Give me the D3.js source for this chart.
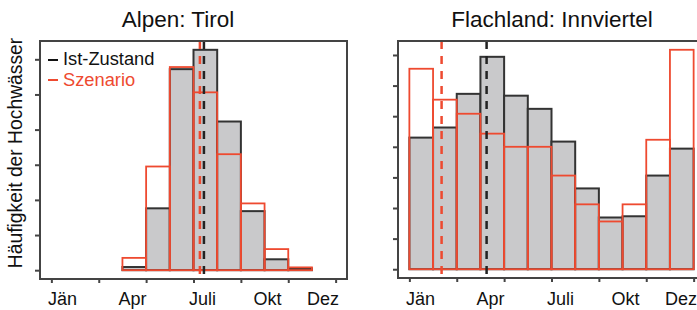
<!DOCTYPE html>
<html><head><meta charset="utf-8">
<script src="https://cdn.jsdelivr.net/npm/d3@7"></script>
<style>
html,body{margin:0;padding:0;background:#fff;}
svg{display:block;font-family:"Liberation Sans",Arial,sans-serif;}
</style></head>
<body><svg id="chart" width="697" height="310"></svg>
<script>
// Months (bins), 0..12
const months = ["Jän","Feb","Mär","Apr","Mai","Jun","Jul","Aug","Sep","Okt","Nov","Dez"];
const tickLabels = ["Jän","Apr","Juli","Okt","Dez"];
const tickLabelPos = [0.47, 3.42, 6.38, 9.12, 11.47];
const xTicks = [0,2,4,6,8,10,12];

// Alpen: Tirol
const tirolIst = [0,0,0,0.09,1.76,5.72,6.27,4.23,1.68,0.31,0.05,0];
const tirolSzen = [0,0,0,0.35,2.95,5.78,5.06,3.30,1.90,0.60,0.08,0];
const tirolMeanIst = 6.44, tirolMeanSzen = 6.27;
const tirolYTicks = [0,1,2,3,4,5,6];

// Flachland: Innviertel
const innIst = [4.30,4.63,5.73,6.94,5.67,5.24,4.17,2.64,1.69,1.73,3.06,3.94];
const innSzen = [6.55,5.54,5.08,4.43,4.00,4.00,3.06,2.12,1.56,2.12,4.23,7.17];
const innMeanIst = 3.26, innMeanSzen = 1.36;
const innYTicks = [0,1,2,3,4,5,6,7];

const RED = "#ee4a30", BLACK = "#333", GRAY = "#c9c9cb", AXIS = "#444";

const svg = d3.select("#chart");

function panel(opts){
  const {left,right,top,bottom,ist,szen,mIst,mSzen,yTicks,title,titleX} = opts;
  const ymax = d3.max(ist.concat(szen));
  const x = d3.scaleLinear().domain([-0.04*12, 12*1.04]).range([left,right]);
  const y = d3.scaleLinear().domain([-0.04*ymax, 1.04*ymax]).range([bottom,top]);
  const g = svg.append("g");

  // Ist bars (gray, black border)
  g.selectAll("rect.ist").data(ist).join("rect")
    .attr("x",(d,i)=>x(i)).attr("width",(d,i)=>x(i+1)-x(i))
    .attr("y",d=>y(d)).attr("height",d=>y(0)-y(d))
    .attr("fill",GRAY).attr("stroke",BLACK).attr("stroke-width",2);
  // Szenario bars (red border, no fill)
  g.selectAll("rect.sz").data(szen).join("rect")
    .attr("x",(d,i)=>x(i)).attr("width",(d,i)=>x(i+1)-x(i))
    .attr("y",d=>y(d)).attr("height",d=>y(0)-y(d))
    .attr("fill","none").attr("stroke",RED).attr("stroke-width",1.8);

  // mean lines
  g.append("line").attr("x1",x(mSzen)).attr("x2",x(mSzen)).attr("y1",top).attr("y2",bottom)
    .attr("stroke",RED).attr("stroke-width",2.5).attr("stroke-dasharray","8,7");
  g.append("line").attr("x1",x(mIst)).attr("x2",x(mIst)).attr("y1",top).attr("y2",bottom)
    .attr("stroke","#222").attr("stroke-width",2.5).attr("stroke-dasharray","8,7");

  // box
  g.append("rect").attr("x",left).attr("y",top).attr("width",right-left).attr("height",bottom-top)
    .attr("fill","none").attr("stroke",AXIS).attr("stroke-width",2);

  // x axis ticks
  const xa = d3.axisBottom(x).tickValues(xTicks).tickSize(4).tickFormat("");
  const gx = g.append("g").attr("transform",`translate(0,${bottom})`).call(xa);
  gx.select(".domain").remove();
  gx.selectAll("line").attr("stroke",AXIS).attr("stroke-width",2);
  g.selectAll("text.xl").data(tickLabels).join("text")
    .attr("x",(d,i)=>x(tickLabelPos[i])).attr("y",305)
    .attr("text-anchor","middle").attr("font-size",18).attr("fill","#111").text(d=>d);

  // y axis ticks
  const ya = d3.axisLeft(y).tickValues(yTicks).tickSize(5).tickFormat("");
  const gy = g.append("g").attr("transform",`translate(${left},0)`).call(ya);
  gy.select(".domain").remove();
  gy.selectAll("line").attr("stroke",AXIS).attr("stroke-width",2);

  svg.append("text").attr("x",titleX).attr("y",27).attr("text-anchor","middle")
    .attr("font-size",22.5).attr("fill","#111").text(title);
}

panel({left:40,right:347,top:41,bottom:279,ist:tirolIst,szen:tirolSzen,
  mIst:tirolMeanIst,mSzen:tirolMeanSzen,yTicks:tirolYTicks,title:"Alpen: Tirol",titleX:178});
panel({left:398,right:705,top:41,bottom:278,ist:innIst,szen:innSzen,
  mIst:innMeanIst,mSzen:innMeanSzen,yTicks:innYTicks,title:"Flachland: Innviertel",titleX:552});

// legend
const legend = [{label:"Ist-Zustand",color:"#111"},{label:"Szenario",color:RED}];
const lg = svg.append("g");
legend.forEach((d,i)=>{
  lg.append("line").attr("x1",48).attr("x2",58).attr("y1",60+i*20).attr("y2",60+i*20)
    .attr("stroke",d.color).attr("stroke-width",2);
  lg.append("text").attr("x",63).attr("y",65+i*21).attr("font-size",18.3)
    .attr("fill",d.color).text(d.label);
});

// y label
svg.append("text").attr("transform","translate(22,153) rotate(-90)")
  .attr("text-anchor","middle").attr("font-size",19.3).attr("fill","#111")
  .text("Häufigkeit der Hochwässer");
</script></body></html>
